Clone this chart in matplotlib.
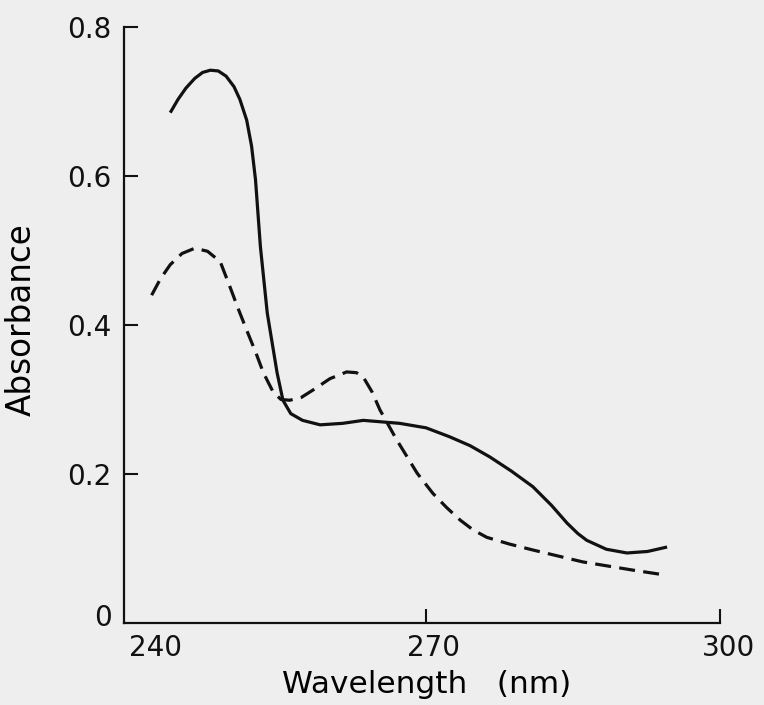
import matplotlib
matplotlib.use("Agg")
import matplotlib.pyplot as plt
import matplotlib.transforms as mtransforms

# Solid curve
solid_x = [243.9, 244.7, 245.5, 246.4, 247.2, 248.0, 248.8, 249.6, 250.4, 251.0,
           251.7, 252.2, 252.6, 253.1, 253.8, 254.8, 255.4, 256.2, 257.4, 259.2,
           261.5, 263.6, 267.3, 270.0, 272.4, 274.5, 276.5, 278.7, 280.9, 282.8,
           284.4, 285.5, 286.4, 288.4, 290.5, 292.6, 294.6]
solid_y = [0.685, 0.703, 0.718, 0.731, 0.739, 0.742, 0.741, 0.734, 0.720, 0.703,
           0.675, 0.640, 0.595, 0.505, 0.416, 0.336, 0.299, 0.281, 0.272, 0.266,
           0.268, 0.272, 0.268, 0.262, 0.250, 0.238, 0.223, 0.204, 0.183, 0.158,
           0.134, 0.120, 0.111, 0.099, 0.094, 0.096, 0.102]

# Dashed curve
dash_x = [242.0, 242.9, 243.9, 245.1, 246.4, 247.7, 249.0, 250.0, 250.8, 251.7,
          252.6, 253.4, 254.4, 255.2, 256.1, 257.3, 258.5, 260.2, 261.9, 262.9,
          263.6, 264.5, 265.3, 267.0, 269.1, 270.7, 272.1, 273.5, 274.8, 276.2,
          278.5, 280.9, 286.0, 291.1, 294.6]
dash_y = [0.440, 0.462, 0.481, 0.496, 0.503, 0.499, 0.485, 0.451, 0.423, 0.393,
          0.364, 0.336, 0.310, 0.300, 0.299, 0.303, 0.313, 0.328, 0.337, 0.336,
          0.330, 0.310, 0.286, 0.246, 0.201, 0.174, 0.155, 0.138, 0.125, 0.115,
          0.106, 0.098, 0.082, 0.071, 0.064]

x_ticks = [240, 270, 300]
x_ticklabels = ["240", "270", "300"]
y_ticks = [0, 0.2, 0.4, 0.6, 0.8]
y_ticklabels = ["0", "0.2", "0.4", "0.6", "0.8"]

plt.rcParams['font.family'] = ['DejaVu Sans']
bg = '#eeeeee'
fig = plt.figure(figsize=(7.64, 7.05), dpi=100, facecolor=bg)
ax = fig.add_axes([124/764, 1-623/705, (720-124)/764, (623-27)/705])
ax.set_facecolor(bg)

ax.plot(solid_x, solid_y, color='#111111', lw=2.3, solid_joinstyle='round', solid_capstyle='butt')
ax.plot(dash_x, dash_y, color='#111111', lw=2.3, dashes=(5, 2.6), dash_capstyle='butt',
        dash_joinstyle='round')

ax.set_xlim(239.18, 300)
ax.set_ylim(0, 0.8)
for s in ['top', 'right']:
    ax.spines[s].set_visible(False)
for s in ['left', 'bottom']:
    ax.spines[s].set_linewidth(1.6)
    ax.spines[s].set_color('#111111')

ax.set_xticks(x_ticks)
ax.set_xticklabels(x_ticklabels)
ax.set_yticks(y_ticks)
ax.set_yticklabels(y_ticklabels)
ax.tick_params(axis='both', direction='in', length=10, width=1.5, colors='#111111',
               labelsize=20)
ax.tick_params(axis='x', pad=8)
ax.tick_params(axis='y', pad=9)
ax.xaxis.get_major_ticks()[0].tick1line.set_visible(False)
ax.yaxis.get_major_ticks()[0].tick1line.set_visible(False)

offsets = [23, 7, 8]
for lab, dx in zip(ax.get_xticklabels(), offsets):
    lab.set_transform(lab.get_transform() + mtransforms.ScaledTranslation(dx/100, 0, fig.dpi_scale_trans))
ylab0 = ax.get_yticklabels()[0]
ylab0.set_transform(ylab0.get_transform() + mtransforms.ScaledTranslation(0, 8/100, fig.dpi_scale_trans))

ax.set_xlabel("Wavelength   (nm)", fontsize=22.5)
ax.xaxis.set_label_coords((427-124)/596, (623-670)/596)
ax.set_ylabel("Absorbance", fontsize=23.5)
ax.yaxis.set_label_coords((38-124)/596, (623-320)/596)

fig.savefig("out.png", dpi=100, facecolor=bg)
